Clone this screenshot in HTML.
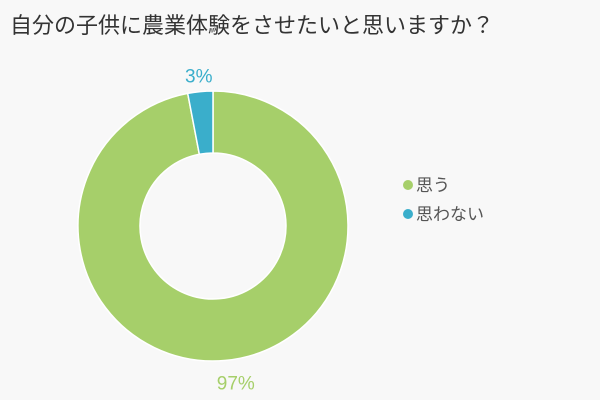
<!DOCTYPE html>
<html><head><meta charset="utf-8"><style>
body{margin:0;background:#f8f8f8;}
svg{display:block;font-family:"Liberation Sans","Noto Sans CJK JP",sans-serif;}
</style></head><body>
<svg width="600" height="400">
<rect width="600" height="400" fill="#f8f8f8"/>
<text x="10" y="33" font-size="22" fill="#333">自分の子供に農業体験をさせたいと思いますか？</text>
<g id="slices"></g>
<g id="labels"></g>
<g>
<g><circle cx="408" cy="185" r="5" fill="#a6cf6a"/><text x="416" y="191" font-size="17" fill="#555">思う</text></g>
<g><circle cx="408" cy="214" r="5" fill="#3aaecb"/><text x="416" y="220" font-size="17" fill="#555">思わない</text></g>
</g>
</svg>
<script>
const categories=["思う","思わない"];
const values=[97,3];
const colors=["#a6cf6a","#3aaecb"];
const cx=213,cy=226,R=135,r=73;
const ns="http://www.w3.org/2000/svg";
const total=values.reduce((a,b)=>a+b,0);
let a0=-Math.PI/2;
const sg=document.getElementById('slices'),lg=document.getElementById('labels');
values.forEach((v,i)=>{
  const a1=a0+v/total*2*Math.PI;
  const large=(a1-a0)>Math.PI?1:0;
  const p=(rad,a)=>[cx+rad*Math.cos(a),cy+rad*Math.sin(a)];
  const [x0,y0]=p(R,a0),[x1,y1]=p(R,a1),[x2,y2]=p(r,a1),[x3,y3]=p(r,a0);
  const path=document.createElementNS(ns,'path');
  path.setAttribute('d',`M${x0},${y0}A${R},${R} 0 ${large} 1 ${x1},${y1}L${x2},${y2}A${r},${r} 0 ${large} 0 ${x3},${y3}Z`);
  path.setAttribute('fill',colors[i]);
  path.setAttribute('stroke','#fff');
  path.setAttribute('stroke-width','1.5');
  
  
  sg.appendChild(path);
  const am=(a0+a1)/2;
  const lr=i===0?R+22:R+16;
  const [lx,ly]=p(lr,am);
  const t=document.createElementNS(ns,'text');
  t.setAttribute('x',i===0?lx+8:lx);
  t.setAttribute('y',ly+7);
  t.setAttribute('text-anchor','middle');
  t.setAttribute('font-size','19');
  t.setAttribute('fill',colors[i]);
  
  
  t.textContent=v+'%';
  lg.appendChild(t);
  a0=a1;
});
</script>
</body></html>
